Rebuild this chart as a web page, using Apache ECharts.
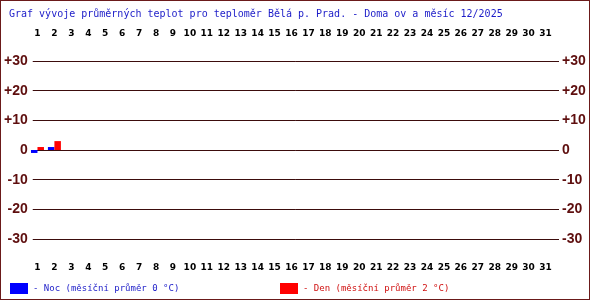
<!DOCTYPE html>
<html><head><meta charset="utf-8">
<script src="https://cdn.jsdelivr.net/npm/echarts@6/dist/echarts.min.js"></script>
<style>
html,body{margin:0;padding:0;background:#fff;}
#c{width:590px;height:300px;box-sizing:border-box;border:1px solid #6b1a1a;}
</style></head><body>
<div id="c"></div>
<script>
const days = Array.from({length:31},(_,i)=>String(i+1));
const nocValues = [-1, 1, null, null, null, null, null, null, null, null, null, null, null, null, null, null, null, null, null, null, null, null, null, null, null, null, null, null, null, null, null];
const denValues = [1, 3, null, null, null, null, null, null, null, null, null, null, null, null, null, null, null, null, null, null, null, null, null, null, null, null, null, null, null, null, null];
const yTicks = [-30, -20, -10, 0, 10, 20, 30];
const titleText = 'Graf vývoje průměrných teplot pro teploměr Bělá p. Prad. - Doma ov a měsíc 12/2025';
const nocLabel = '- Noc (měsíční průměr 0 °C)';
const denLabel = '- Den (měsíční průměr 2 °C)';

const chart = echarts.init(document.getElementById('c'), null, {renderer:'canvas'});
const yLabel = {
  formatter: v => (v > 0 ? '+' + v : String(v)),
  color: '#5e0e0e', fontSize: 14, fontWeight: 'bold', fontFamily: 'Liberation Sans'
};
const dayLabel = {color:'#000', fontSize:9, fontWeight:'bold', fontFamily:'DejaVu Sans', interval:0};
chart.setOption({
  animation:false,
  title:{text:titleText, left:8, top:8, padding:0, textStyle:{color:'#1c1cc8', fontSize:10, fontWeight:'normal', fontFamily:'DejaVu Sans Mono'}},
  legend:[
    {data:['Noc'], left:9, top:282, padding:0, itemWidth:18, itemHeight:11, icon:'rect', formatter:()=>nocLabel,
     textStyle:{color:'#1c1cc8', fontSize:9, fontFamily:'DejaVu Sans Mono'}, selectedMode:false},
    {data:['Den'], left:279, top:282, padding:0, itemWidth:18, itemHeight:11, icon:'rect', formatter:()=>denLabel,
     textStyle:{color:'#d01010', fontSize:9, fontFamily:'DejaVu Sans Mono'}, selectedMode:false}
  ],
  grid:[
    {left:30, right:30, top:60, bottom:60},
    {left:28, right:35, top:60, bottom:60}
  ],
  xAxis:[
    {gridIndex:0, type:'value', min:0, max:1, show:false},
    {gridIndex:1, type:'category', data:days, position:'top', axisLine:{show:false}, axisTick:{show:false}, axisLabel:Object.assign({margin:23}, dayLabel)},
    {gridIndex:1, type:'category', data:days, position:'bottom', axisLine:{show:false}, axisTick:{show:false}, axisLabel:Object.assign({margin:24}, dayLabel)}
  ],
  yAxis:[
    {gridIndex:0, type:'value', min:-30, max:30, interval:10, position:'left', axisLine:{show:false}, axisTick:{show:false},
     splitLine:{lineStyle:{color:'#3c0c0c', width:1}}, axisLabel:Object.assign({margin:5}, yLabel)},
    {gridIndex:0, type:'value', min:-30, max:30, interval:10, position:'right', axisLine:{show:false}, axisTick:{show:false},
     splitLine:{show:false}, axisLabel:Object.assign({margin:3}, yLabel)},
    {gridIndex:1, type:'value', min:-30, max:30, interval:10, show:false}
  ],
  series:[
    {name:'Noc', type:'bar', xAxisIndex:1, yAxisIndex:2, data:nocValues, barWidth:6.5, barGap:'0%', itemStyle:{color:'#0000ff'}},
    {name:'Den', type:'bar', xAxisIndex:1, yAxisIndex:2, data:denValues, barWidth:6.5, barGap:'0%', itemStyle:{color:'#ff0000'}}
  ]
});
</script></body></html>
